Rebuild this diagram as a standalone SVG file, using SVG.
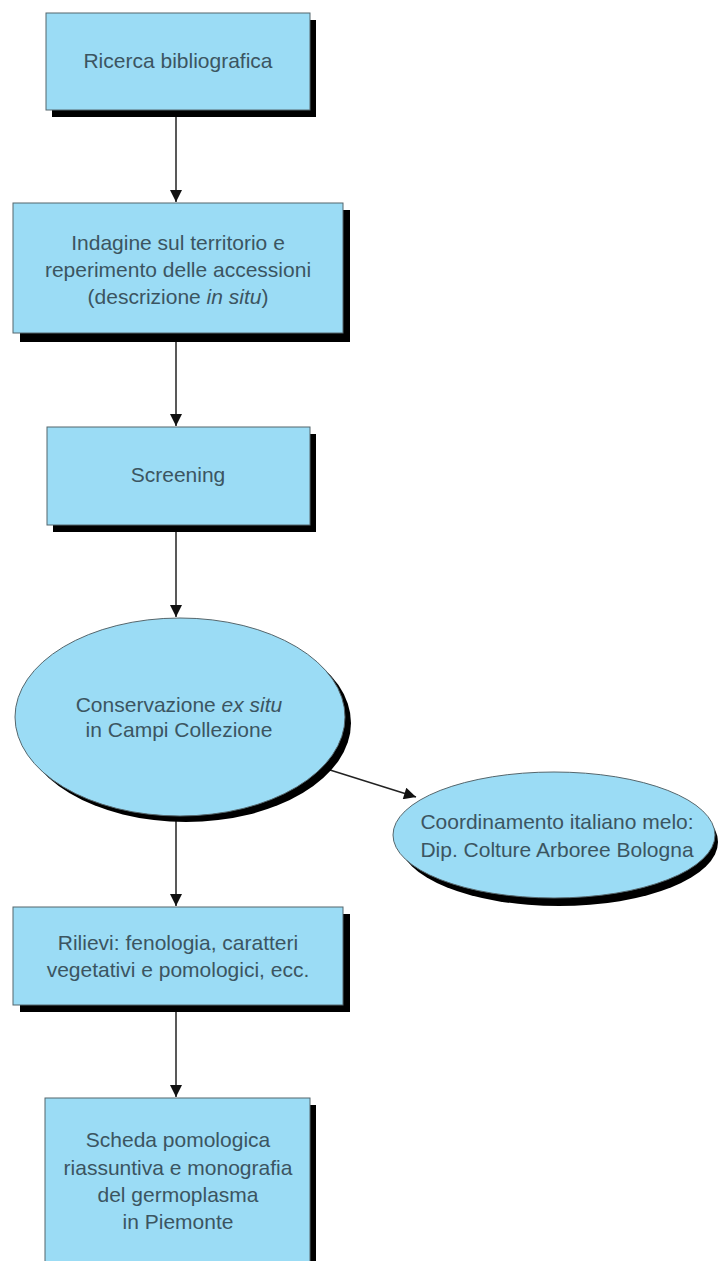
<svg xmlns="http://www.w3.org/2000/svg" width="718" height="1261" viewBox="0 0 718 1261">
<style>
.box{fill:#9bdcf5;stroke:#55666c;stroke-width:1}
.sh{fill:#000}
.t{font-family:"Liberation Sans",Arial,sans-serif;font-size:21px;fill:#3b5561;text-anchor:middle}
.i{font-style:italic}
.c{stroke:#222;stroke-width:1.5;fill:none}
</style>
<defs>
<marker id="ah" viewBox="0 0 10 10" refX="10" refY="5" markerWidth="14" markerHeight="12" markerUnits="userSpaceOnUse" orient="auto">
<path d="M0,0 L10,5 L0,10 Z" fill="#111"/>
</marker>
</defs>
<rect width="718" height="1261" fill="#fff"/>
<g id="connectors">
<line class="c" x1="176" y1="117" x2="176" y2="202" marker-end="url(#ah)"/>
<line class="c" x1="176" y1="342" x2="176" y2="426" marker-end="url(#ah)"/>
<line class="c" x1="176" y1="532" x2="176" y2="617" marker-end="url(#ah)"/>
<line class="c" x1="330" y1="770" x2="416" y2="797" marker-end="url(#ah)"/>
<line class="c" x1="176" y1="818" x2="176" y2="906" marker-end="url(#ah)"/>
<line class="c" x1="176" y1="1012" x2="176" y2="1097" marker-end="url(#ah)"/>
</g>
<g id="n1">
<rect class="sh" x="52" y="20" width="264" height="97"/>
<rect class="box" x="46" y="13" width="264" height="97"/>
<text class="t" x="178" y="68">Ricerca bibliografica</text>
</g>
<g id="n2">
<rect class="sh" x="20" y="210" width="330" height="132"/>
<rect class="box" x="13" y="203" width="330" height="130"/>
<text class="t" x="178" y="250">Indagine sul territorio e</text>
<text class="t" x="178" y="277">reperimento delle accessioni</text>
<text class="t" x="178" y="304">(descrizione <tspan class="i">in situ</tspan>)</text>
</g>
<g id="n3">
<rect class="sh" x="53" y="434" width="263" height="98"/>
<rect class="box" x="47" y="427" width="263" height="98"/>
<text class="t" x="178" y="482">Screening</text>
</g>
<g id="n4">
<ellipse class="sh" cx="186" cy="723" rx="165" ry="99"/>
<ellipse class="box" cx="180" cy="717" rx="165" ry="99"/>
<text class="t" x="179" y="712">Conservazione <tspan class="i">ex situ</tspan></text>
<text class="t" x="179" y="737">in Campi Collezione</text>
</g>
<g id="n5">
<ellipse class="sh" cx="559" cy="842" rx="159" ry="64"/>
<ellipse class="box" cx="554" cy="835" rx="161" ry="63"/>
<text class="t" x="557" y="829">Coordinamento italiano melo:</text>
<text class="t" x="557" y="857">Dip. Colture Arboree Bologna</text>
</g>
<g id="n6">
<rect class="sh" x="20" y="914" width="330" height="98"/>
<rect class="box" x="13" y="907" width="330" height="98"/>
<text class="t" x="178" y="950">Rilievi: fenologia, caratteri</text>
<text class="t" x="178" y="977">vegetativi e pomologici, ecc.</text>
</g>
<g id="n7">
<rect class="sh" x="51" y="1105" width="265" height="170"/>
<rect class="box" x="45" y="1098" width="265" height="170"/>
<text class="t" x="178" y="1147">Scheda pomologica</text>
<text class="t" x="178" y="1175">riassuntiva e monografia</text>
<text class="t" x="178" y="1202">del germoplasma</text>
<text class="t" x="178" y="1229">in Piemonte</text>
</g>
</svg>
